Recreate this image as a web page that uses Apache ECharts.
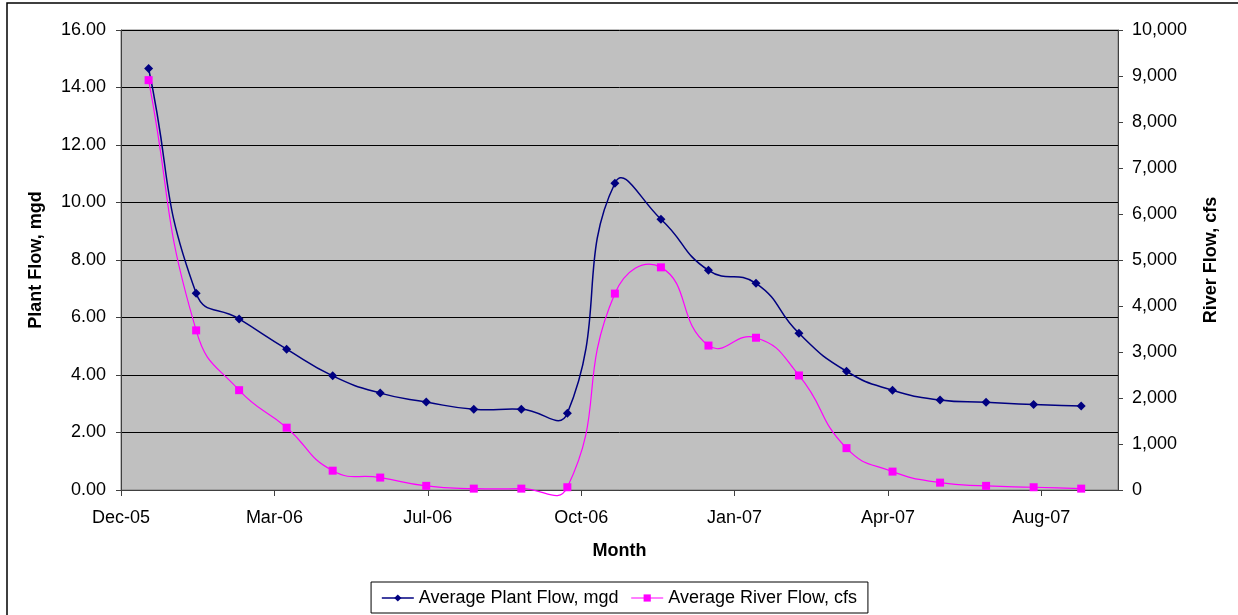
<!DOCTYPE html>
<html>
<head>
<meta charset="utf-8">
<title>Average Plant Flow and River Flow</title>
<script src="https://cdn.jsdelivr.net/npm/echarts@6/dist/echarts.min.js"></script>
<style>
  html, body { margin: 0; padding: 0; background: #ffffff; }
  #chart { width: 1238px; height: 615px; }
</style>
</head>
<body>
<div id="chart"></div>
<script>
// Monthly averages, one record on the first day of each month
const months = [
  '2006-01', '2006-02', '2006-03', '2006-04', '2006-05', '2006-06', '2006-07',
  '2006-08', '2006-09', '2006-10', '2006-11', '2006-12', '2007-01', '2007-02',
  '2007-03', '2007-04', '2007-05', '2007-06', '2007-07', '2007-08', '2007-09'
];
// Average plant flow, mgd (left axis)
const plantFlow = [
  14.66, 6.84, 5.95, 4.90, 3.97, 3.37, 3.06, 2.81, 2.81, 2.67, 10.67,
  9.42, 7.64, 7.19, 5.45, 4.13, 3.47, 3.13, 3.05, 2.97, 2.92
];
// Average river flow, cfs (right axis)
const riverFlow = [
  8910, 3470, 2170, 1355, 420, 270, 90, 30, 30, 60, 4270,
  4840, 3140, 3310, 2490, 910, 400, 160, 90, 60, 30
];
// Date axis labels, one every 100 days starting at serial day 38700
const tickLabels = ['Dec-05', 'Mar-06', 'Jul-06', 'Oct-06', 'Jan-07', 'Apr-07', 'Aug-07'];

// Spreadsheet-style serial day numbers (1899-12-30 epoch)
const X_MIN = 38700, X_MAX = 39350, X_STEP = 100;
function serialDay(ym) {
  const [y, m] = ym.split('-').map(Number);
  return Date.UTC(y, m - 1, 1) / 86400000 + 25569;
}
const xDays = months.map(serialDay);
const tickValues = tickLabels.map((_, i) => X_MIN + i * X_STEP);

const PLANT_COLOR = '#000080';
const RIVER_COLOR = '#FF00FF';
const FONT = '"Liberation Sans", Arial, sans-serif';
const SMOOTH = 0.5;

// Free (unclamped) cubic smoothing: each segment is a bezier whose control
// points follow the chord between the neighbouring points, split by segment length.
function smoothCurveRenderer(values, color, width) {
  const n = values.length;
  return function (params, api) {
    const i = params.dataIndex;
    if (i >= n - 1) return null;
    const pt = k => {
      const j = Math.max(0, Math.min(n - 1, k));
      return api.coord([xDays[j], values[j]]);
    };
    const ctrl = (prev, cur, next) => {
      const vx = next[0] - prev[0], vy = next[1] - prev[1];
      const d0 = Math.hypot(cur[0] - prev[0], cur[1] - prev[1]);
      const d1 = Math.hypot(next[0] - cur[0], next[1] - cur[1]);
      const tot = d0 + d1 || 1;
      return {
        before: [cur[0] - vx * SMOOTH * d0 / tot, cur[1] - vy * SMOOTH * d0 / tot],
        after: [cur[0] + vx * SMOOTH * d1 / tot, cur[1] + vy * SMOOTH * d1 / tot]
      };
    };
    const p0 = pt(i - 1), p1 = pt(i), p2 = pt(i + 1), p3 = pt(i + 2);
    const c1 = ctrl(p0, p1, p2).after;
    const c2 = ctrl(p1, p2, p3).before;
    return {
      type: 'bezierCurve',
      silent: true,
      shape: {
        x1: p1[0], y1: p1[1], x2: p2[0], y2: p2[1],
        cpx1: c1[0], cpy1: c1[1], cpx2: c2[0], cpy2: c2[1]
      },
      style: { stroke: color, lineWidth: width, fill: null }
    };
  };
}

const chart = echarts.init(document.getElementById('chart'), null, { renderer: 'canvas' });

chart.setOption({
  animation: false,
  backgroundColor: '#ffffff',
  textStyle: { fontFamily: FONT, color: '#000' },
  graphic: [{
    type: 'rect',
    silent: true,
    z: -1,
    shape: { x: 7, y: 3, width: 1400, height: 800 },
    style: { fill: null, stroke: '#000', lineWidth: 1.5 }
  }],
  grid: {
    left: 121, top: 30, right: 120, bottom: 125,
    show: true, backgroundColor: '#C0C0C0', borderColor: '#808080', borderWidth: 1
  },
  legend: {
    bottom: 2,
    left: 'center',
    backgroundColor: '#ffffff',
    borderColor: '#000',
    borderWidth: 1,
    borderRadius: 0,
    padding: [7, 11, 6, 10],
    itemGap: 12,
    itemWidth: 32,
    itemHeight: 9,
    textStyle: { fontFamily: FONT, fontSize: 18, color: '#000' },
    data: [
      { name: 'Average Plant Flow, mgd', lineStyle: { color: PLANT_COLOR, width: 1.5, opacity: 1 } },
      { name: 'Average River Flow, cfs', lineStyle: { color: RIVER_COLOR, width: 1.2, opacity: 1 } }
    ]
  },
  xAxis: {
    type: 'value',
    min: X_MIN,
    max: X_MAX,
    interval: X_STEP,
    name: 'Month',
    nameLocation: 'middle',
    nameGap: 52,
    nameTextStyle: { fontFamily: FONT, fontSize: 18, fontWeight: 'bold', color: '#000' },
    axisLine: { show: true, onZero: false, lineStyle: { color: '#404040', width: 1 } },
    axisTick: { show: true, inside: false, length: 6, customValues: tickValues, lineStyle: { color: '#404040' } },
    axisLabel: {
      customValues: tickValues,
      margin: 19,
      fontFamily: FONT, fontSize: 18, color: '#000',
      formatter: v => {
        const i = Math.round((v - X_MIN) / X_STEP);
        return tickLabels[i] || '';
      }
    },
    splitLine: { show: false }
  },
  yAxis: [{
    type: 'value',
    position: 'left',
    min: 0, max: 16, interval: 2,
    name: 'Plant Flow, mgd',
    nameLocation: 'middle',
    nameRotate: 90,
    nameGap: 76,
    nameTextStyle: { fontFamily: FONT, fontSize: 18, fontWeight: 'bold', color: '#000' },
    axisLine: { show: true, lineStyle: { color: '#404040', width: 1 } },
    axisTick: { show: true, inside: false, length: 5, lineStyle: { color: '#404040' } },
    axisLabel: { margin: 15, fontFamily: FONT, fontSize: 18, color: '#000', formatter: v => v.toFixed(2) },
    splitLine: { show: true, lineStyle: { color: '#000', width: 1 } }
  }, {
    type: 'value',
    position: 'right',
    min: 0, max: 10000, interval: 1000,
    name: 'River Flow, cfs',
    nameLocation: 'middle',
    nameRotate: 90,
    nameGap: 84,
    nameTextStyle: { fontFamily: FONT, fontSize: 18, fontWeight: 'bold', color: '#000' },
    axisLine: { show: true, lineStyle: { color: '#404040', width: 1 } },
    axisTick: { show: true, inside: false, length: 5, lineStyle: { color: '#404040' } },
    axisLabel: { margin: 14, fontFamily: FONT, fontSize: 18, color: '#000', formatter: v => v.toLocaleString('en-US') },
    splitLine: { show: false }
  }],
  series: [{
    // smoothed curve for plant flow
    name: 'plantCurve',
    type: 'custom',
    yAxisIndex: 0,
    silent: true,
    z: 2,
    encode: { x: 0, y: 1 },
    renderItem: smoothCurveRenderer(plantFlow, PLANT_COLOR, 1.5),
    data: xDays.map((d, i) => [d, plantFlow[i]])
  }, {
    // smoothed curve for river flow
    name: 'riverCurve',
    type: 'custom',
    yAxisIndex: 1,
    silent: true,
    z: 1,
    encode: { x: 0, y: 1 },
    renderItem: smoothCurveRenderer(riverFlow, RIVER_COLOR, 1.2),
    data: xDays.map((d, i) => [d, riverFlow[i]])
  }, {
    // markers for plant flow
    name: 'Average Plant Flow, mgd',
    type: 'line',
    yAxisIndex: 0,
    symbol: 'diamond',
    symbolSize: 9,
    itemStyle: { color: PLANT_COLOR },
    lineStyle: { color: PLANT_COLOR, width: 1.5, opacity: 0 },
    data: xDays.map((d, i) => [d, plantFlow[i]]),
    z: 4
  }, {
    // markers for river flow
    name: 'Average River Flow, cfs',
    type: 'line',
    yAxisIndex: 1,
    symbol: 'rect',
    symbolSize: 8,
    itemStyle: { color: RIVER_COLOR },
    lineStyle: { color: RIVER_COLOR, width: 1.2, opacity: 0 },
    data: xDays.map((d, i) => [d, riverFlow[i]]),
    z: 3
  }]
});
</script>
</body>
</html>
